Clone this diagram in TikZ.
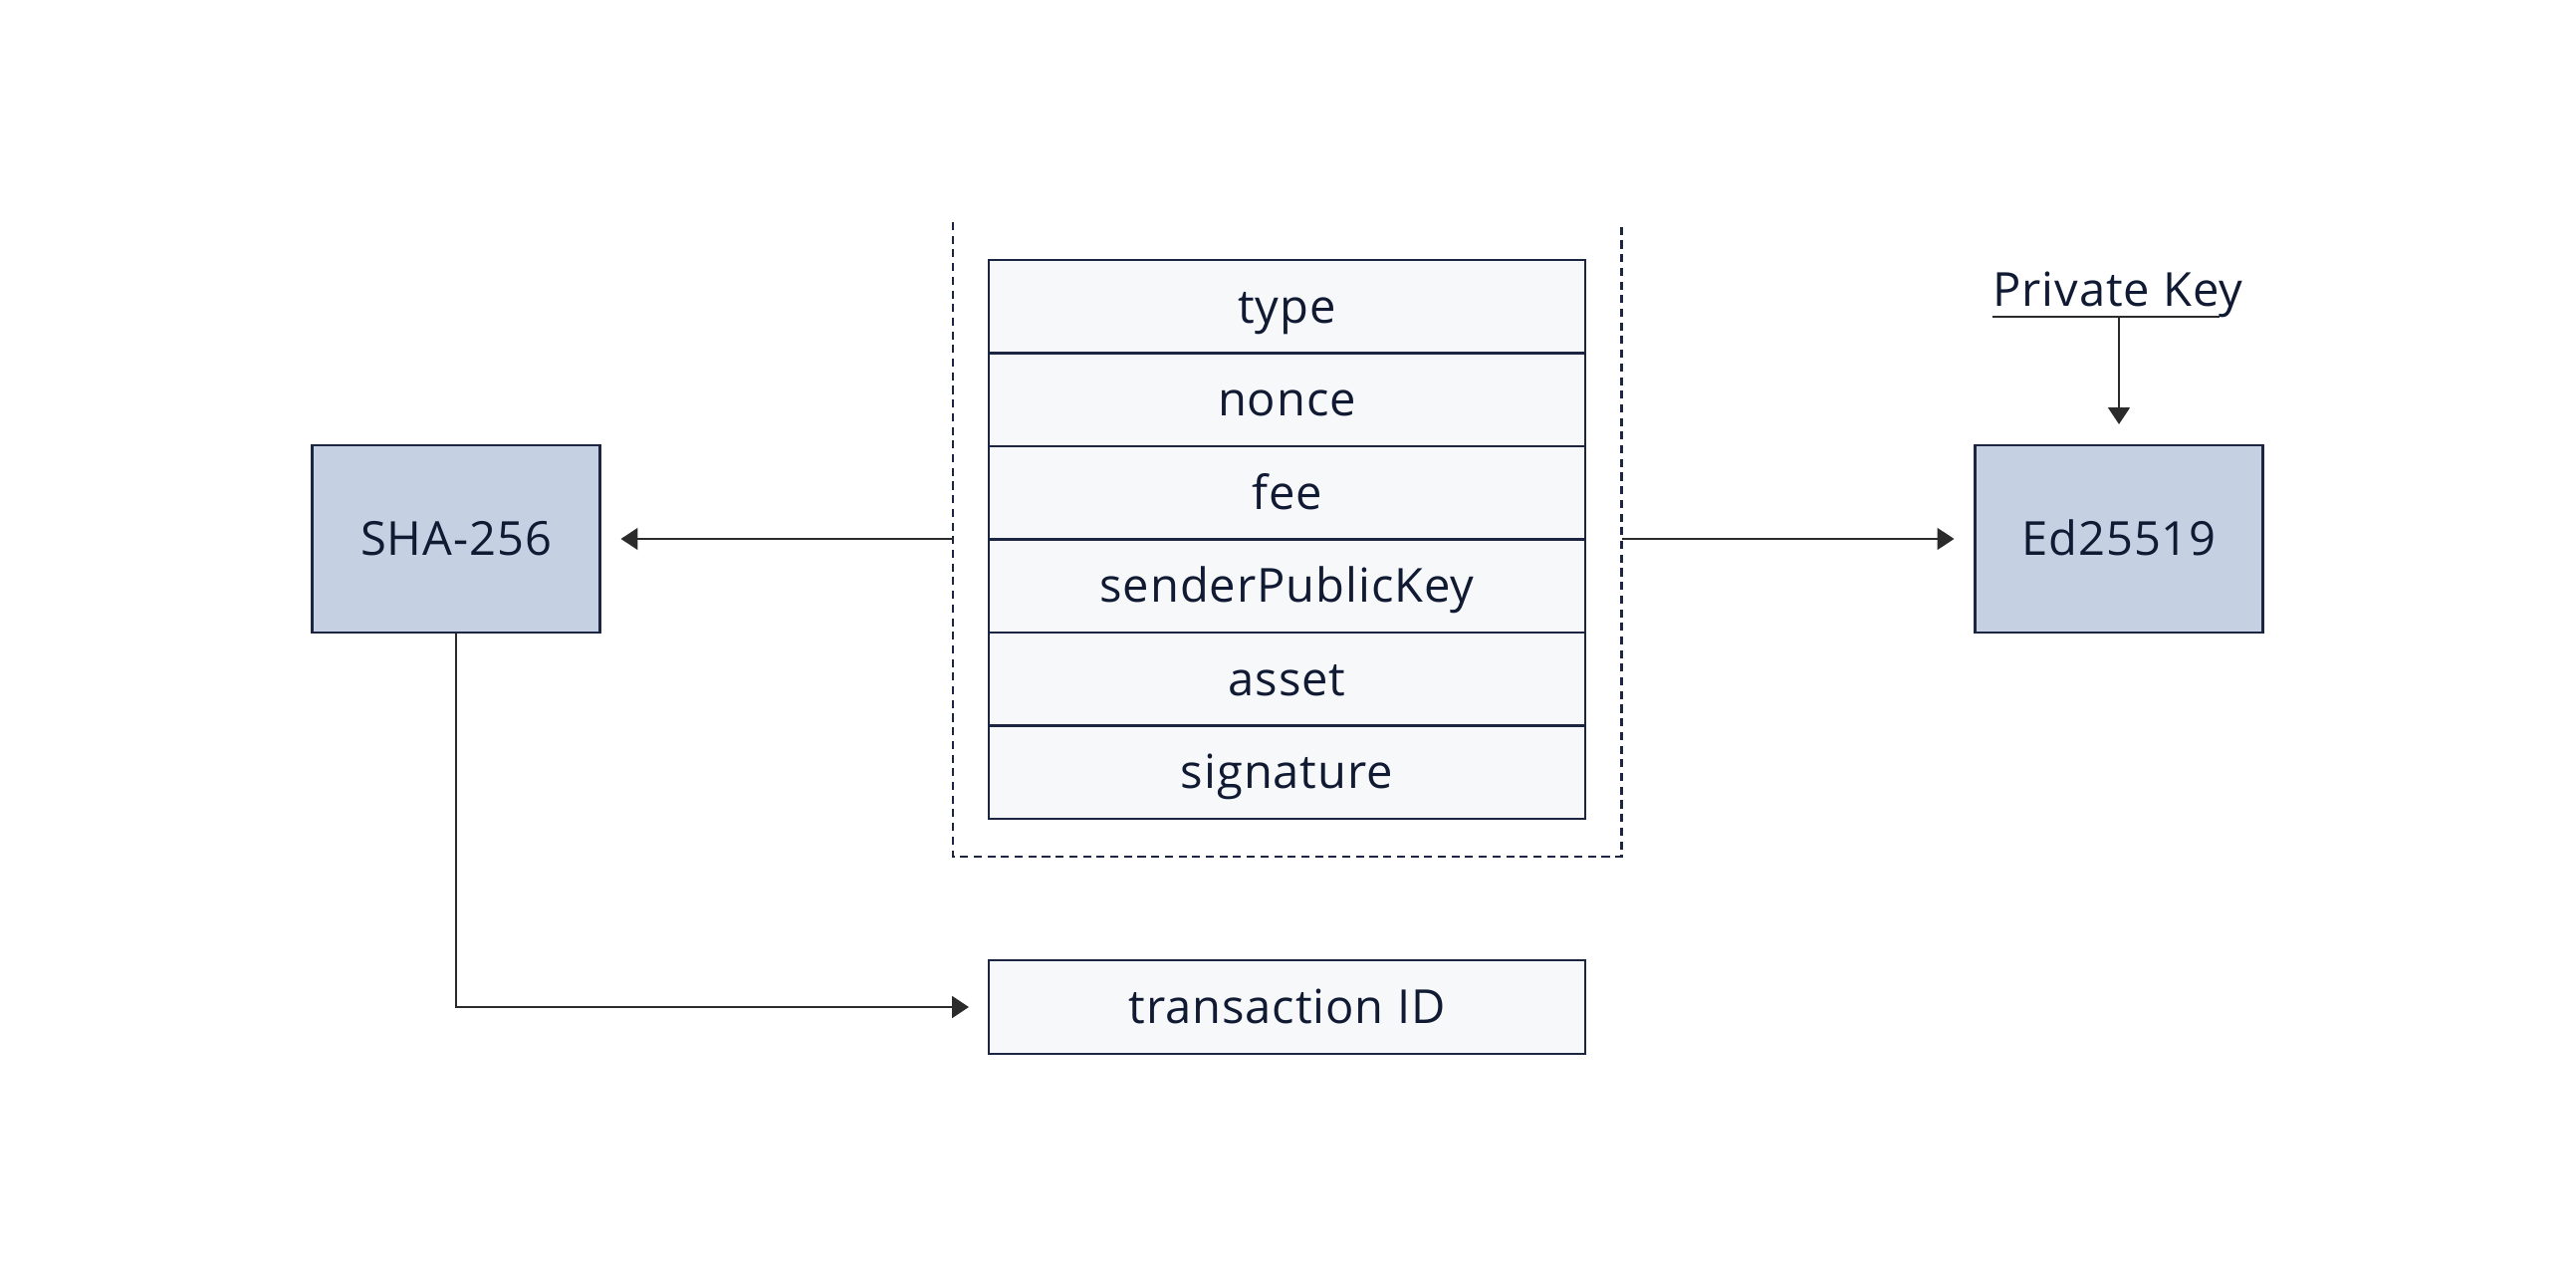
\documentclass[tikz,border=0pt]{standalone}
\usepackage{fontspec}
\setmainfont[LetterSpace = 2]{Open Sans}
\usetikzlibrary{positioning,arrows.meta}

\definecolor{ink}{HTML}{111A33}
\definecolor{edge}{HTML}{1C2541}
\definecolor{wire}{HTML}{2B2B2B}
\definecolor{algofill}{HTML}{C5D0E3}
\definecolor{fieldfill}{HTML}{F7F8FA}

\tikzset{
    label font/.style = {text = ink, font = \fontsize{13.4}{15}\selectfont, text height = 9.5pt, text depth = 0pt},
    algo/.style = {draw = edge, fill = algofill, line width = 0.6pt, minimum width = 2.89cm, minimum height = 1.88cm, label font},
    field/.style = {draw = edge, fill = fieldfill, line width = 0.6pt, minimum width = 5.99cm, minimum height = 0.935cm, inner sep = 0pt, outer sep = 0pt, label font},
    arr/.style = {draw = wire, line width = 0.6pt, -{Triangle[length = 4.8pt, width = 6.2pt]}, shorten > = 0.2cm},
    frame/.style = {draw = edge, line width = 0.6pt, dash pattern = on 2.3pt off 1.6pt}
}

\begin{document}
\begin{tikzpicture}
    \useasboundingbox (0, 0) rectangle (25.87, -12.82);

    % transaction fields
    \node[field] (type) at (12.925, -3.0775) {type};
    \node[field, below = 0pt of type] (nonce) {nonce};
    \node[field, below = 0pt of nonce] (fee) {fee};
    \node[field, below = 0pt of fee] (spk) {senderPublicKey};
    \node[field, below = 0pt of spk] (asset) {asset};
    \node[field, below = 0pt of asset] (sig) {signature};

    \draw[frame] (9.57, -2.23) -- (9.57, -8.60) -- (16.285, -8.60) -- (16.285, -2.23);
    \coordinate (frameW) at (9.57, -5.41);
    \coordinate (frameE) at (16.285, -5.41);

    \node[field] (txid) at (12.925, -10.11) {transaction ID};

    % algorithms
    \node[algo] (sha) at (4.58, -5.41) {SHA-256};
    \node[algo] (ed) at (21.28, -5.41) {Ed25519};

    \node[label font, inner sep = 0pt, anchor = base] (pk) at (21.27, -3.08) {Private Key};
    \draw[draw = wire, line width = 0.6pt] ([yshift = -2.8pt]pk.base west) -- ([xshift = -0.24cm, yshift = -2.8pt]pk.base east);
    \coordinate (pkbar) at ([yshift = -2.8pt]ed.north |- pk.base);

    % connectors
    \draw[arr] (frameW) -- (sha.east);
    \draw[arr] (frameE) -- (ed.west);
    \draw[arr] (pkbar) -- (ed.north);
    \draw[arr] (sha.south) |- (txid.west);
\end{tikzpicture}
\end{document}
